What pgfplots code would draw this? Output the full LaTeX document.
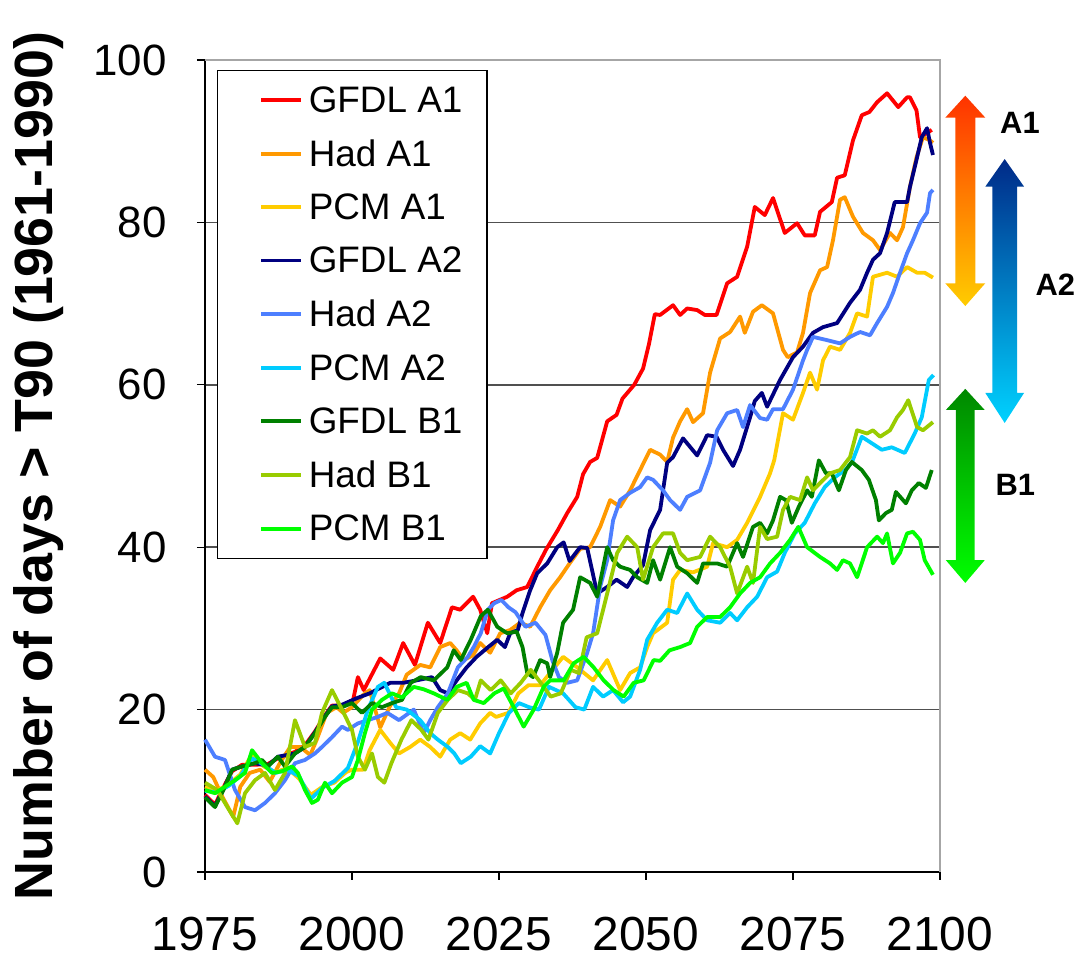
\documentclass[border=0pt]{standalone}
\usepackage{pgfplots}
\pgfplotsset{compat=1.18}
\usepackage{fontspec}
\setmainfont{Liberation Sans}
\definecolor{cGA1}{HTML}{FF0000}
\definecolor{cHA1}{HTML}{FF9900}
\definecolor{cPA1}{HTML}{FFCC00}
\definecolor{cGA2}{HTML}{000080}
\definecolor{cHA2}{HTML}{4D7FFF}
\definecolor{cPA2}{HTML}{00CCFF}
\definecolor{cGB1}{HTML}{008000}
\definecolor{cHB1}{HTML}{99CC00}
\definecolor{cPB1}{HTML}{00FF00}
\definecolor{gridc}{HTML}{505050}
\begin{document}
\begin{tikzpicture}
\begin{axis}[
  name=ax,
  scale only axis,
  width=735bp, height=812bp,
  xmin=1975, xmax=2100, ymin=0, ymax=100,
  clip=false,
  axis x line*=bottom, axis y line*=left,
  axis line style={black, line width=1.5bp},
  xtick={1975,2000,2025,2050,2075,2100},
  xticklabels={1975,2000,2025,2050,2075,2100},
  ytick={0,20,40,60,80,100},
  tick align=outside,
  major tick length=8bp,
  tick style={black, line width=1.2bp},
  ymajorgrids,
  grid style={gridc, line width=1.5bp},
  /pgf/number format/assume math mode=true,
  xticklabel style={font=\fontsize{48}{48}\selectfont, inner ysep=0bp, yshift=-37bp},
  yticklabel style={font=\fontsize{44}{44}\selectfont, xshift=-27bp},
  ylabel={Number of days > T90 (1961-1990)},
  ylabel style={font=\bfseries\fontsize{54}{54}\selectfont, at={(axis description cs:-0.227,0.5)}, anchor=center},
  legend cell align=left,
  legend image code/.code={\path[draw=none,fill=none] (-25bp,0bp) -- (0bp,0bp); \draw[#1] (0bp,0bp) -- (40bp,0bp);},
  legend style={at={(axis description cs:0.016,0.988)}, anchor=north west,
    draw=black, line width=1.2bp, fill=white,
    font=\fontsize{37}{40}\selectfont,
    inner xsep=19bp, inner ysep=14bp, row sep=22bp,
    nodes={inner xsep=5.5bp}},
  every axis plot/.append style={line width=3.8bp, line join=round, mark=none},
]
% GFDL A1
\addplot[cGA1] coordinates {(1975,9.5)(1976.7,8.3)(1978.4,10.8)(1979.6,12.4)(1981.3,13.2)(1983.5,13.2)(1985.7,13.3)(1987.4,14)(1990.3,14.8)(1992,15.6)(1993.7,17.3)(1995.4,19.3)(1996.6,20.5)(1998.3,20.5)(2000.2,21.2)(2001,24)(2002,22.4)(2004.8,26.3)(2007,24.9)(2008.7,28.2)(2010.7,25.5)(2012.9,30.7)(2015,28.2)(2017,32.6)(2018.4,32.3)(2020.6,33.9)(2021.8,32.3)(2023,29.4)(2023.8,33.1)(2026.4,33.9)(2028,34.7)(2029.8,35.1)(2031.5,37.6)(2033,39.7)(2035,42.1)(2036.6,44.2)(2038.3,46.2)(2039.3,49)(2040.5,50.5)(2041.7,51)(2043.4,55.5)(2045,56.3)(2046,58.3)(2048,60)(2049.5,62)(2050.5,65)(2051.5,68.7)(2052.4,68.6)(2054.6,69.8)(2055.8,68.6)(2057,69.4)(2058.7,69.2)(2060,68.6)(2062,68.6)(2063.8,72.5)(2065.5,73.3)(2067.2,77)(2068.5,81.9)(2070.2,80.9)(2071.6,83)(2073.6,78.7)(2075.7,79.9)(2077,78.4)(2078.7,78.4)(2079.6,81.3)(2081.6,82.5)(2082.5,85.5)(2083.8,85.8)(2085.2,90.1)(2086.7,93.2)(2088,93.6)(2089.3,94.8)(2091,95.9)(2092.9,94.2)(2094.4,95.4)(2094.9,95.4)(2096,93.8)(2096.6,90.5)(2097.8,91)(2098.6,91.4)};
\addlegendentry{GFDL A1}
% Had A1
\addplot[cHA1] coordinates {(1975,12.6)(1976.4,11.7)(1978,9.2)(1979.8,6.8)(1981,10.5)(1982.6,12.2)(1984.4,12.6)(1986,11.1)(1987.8,13.5)(1989.5,15.4)(1991.2,15.4)(1992.9,14.4)(1994,16.3)(1995.7,19.6)(1997.4,20.3)(1998.5,19.6)(2000,20.3)(2001.9,21.8)(2003,22.4)(2004.8,17.8)(2006.5,20.5)(2008,22)(2009.3,24.3)(2011.6,25.5)(2013.3,25.2)(2015,27.7)(2016.7,28.2)(2017.8,27.3)(2019,26.1)(2020.6,26.7)(2021.8,28.2)(2023.5,27)(2025.2,29.4)(2026.9,29.8)(2028.6,30.7)(2030.3,30.2)(2032,32.6)(2033.7,34.7)(2035.4,36.3)(2037,38)(2038.8,39.8)(2040.5,40)(2042.2,42.5)(2043.9,45.8)(2045.6,45)(2047.3,47)(2049,49.5)(2050.7,52)(2052.4,51.4)(2053.6,50.5)(2054.6,53.5)(2055.8,55.5)(2057,57)(2058,55.4)(2059.7,56.5)(2060.9,61.5)(2062.6,65.7)(2064.3,66.5)(2066,68.4)(2066.8,66.4)(2068.2,69)(2069.7,69.8)(2071.6,68.8)(2073.3,64.3)(2074.1,63.4)(2075.7,64)(2076.7,66.4)(2077.9,71.3)(2079.6,74.1)(2080.8,74.5)(2081.8,77.8)(2083,82.8)(2083.8,83.1)(2085.2,80.7)(2086.9,78.7)(2088.6,77.8)(2089.8,76.6)(2091.5,78.7)(2092.7,77.8)(2093.7,79.4)(2094.9,84.4)(2096,88)(2097.1,90.5)(2098.3,90.1)(2098.8,89.8)};
\addlegendentry{Had A1}
% PCM A1
\addplot[cPA1] coordinates {(1975,10.5)(1977,10)(1979,10.8)(1981,12)(1983,14.5)(1985,13)(1987,12.3)(1989,12.8)(1991,11.5)(1993,9.5)(1995,10.5)(1997,11)(1999,12.3)(2000,12.6)(2001.9,12.6)(2003,15)(2004.8,17.5)(2006.5,15.9)(2008,14.6)(2009.9,15.4)(2011.6,16.3)(2013.3,15.4)(2015,14.2)(2016.7,16.3)(2018.4,17.1)(2020.1,16.3)(2021.8,18.3)(2023.5,19.6)(2024.5,19.1)(2026.6,19.6)(2028.3,22)(2030,23)(2032,23)(2035.9,26.5)(2038.3,25.2)(2041,23.6)(2043.4,26.1)(2045.6,22.4)(2047.3,24.5)(2049,25.2)(2050.2,27.7)(2051.2,29.4)(2053.6,30.7)(2054.6,36)(2055.8,37.2)(2058,36.9)(2060.4,37.6)(2061.4,40.5)(2063.8,40)(2065.5,40.9)(2067.2,43)(2069.4,46.2)(2071.1,49.1)(2071.8,50.7)(2073.3,56.5)(2075,55.7)(2076.7,59)(2077.9,61.5)(2079.1,59.4)(2080.1,63)(2081.3,64.7)(2083,64.3)(2084.7,66.4)(2085.9,68.8)(2087.6,68.4)(2088.6,73.3)(2091,73.8)(2092.7,73.3)(2094.4,74.5)(2096.1,73.8)(2097.4,73.8)(2098.8,73.2)};
\addlegendentry{PCM A1}
% GFDL A2
\addplot[cGA2] coordinates {(1975,9.3)(1976.7,8.1)(1978.4,10.6)(1979.6,12.6)(1981.3,13)(1983.5,13.4)(1985.7,13.1)(1987.4,14.2)(1990.3,14.6)(1992,15.4)(1993.7,17.2)(1995.4,19.2)(1996.6,20.4)(1998.3,20.6)(2000.8,21.4)(2003,22)(2006.5,23.3)(2008.7,23.3)(2011,23.6)(2013.6,24)(2015,22.4)(2016.3,22)(2017.8,23.6)(2019.5,25.2)(2021.2,26.5)(2023,27.6)(2024.7,28.6)(2026,27.7)(2026.9,29.4)(2028.2,29.8)(2029,31.9)(2030.3,34.7)(2031.5,36.8)(2033.2,38)(2034.9,40)(2036,40.6)(2037,38.3)(2038.8,40)(2040,39.9)(2041.7,34.3)(2043.4,35.1)(2045,36)(2046.8,35.1)(2047.8,36.3)(2049.5,37.8)(2050.7,42.1)(2052.4,44.6)(2053.6,50.4)(2054.6,51.1)(2056.3,53.4)(2058.7,51.3)(2060.4,53.8)(2062,53.6)(2063.1,52)(2064.8,50)(2066,52)(2067.7,56)(2068.5,58)(2069.7,59)(2070.6,57.3)(2072.8,60.6)(2075,63.4)(2076.7,64.7)(2078.4,66.4)(2080.1,67.1)(2082.5,67.6)(2084.7,70.1)(2086.4,71.7)(2087.6,73.8)(2088.6,75.4)(2089.8,76.2)(2091,78.7)(2092.3,82.5)(2094.4,82.5)(2094.9,84.4)(2096,87.7)(2096.9,90.5)(2097.8,91.6)(2098.3,89.8)(2098.8,88.3)};
\addlegendentry{GFDL A2}
% Had A2
\addplot[cHA2] coordinates {(1975,16.3)(1976.7,14.2)(1978.4,13.8)(1980.1,10.1)(1981.8,8)(1983.5,7.6)(1985.2,8.5)(1986.9,9.7)(1988.6,11.3)(1990.3,13.4)(1992,13.8)(1993.7,14.6)(1994.9,15.4)(1996.6,16.6)(1998.3,17.9)(1999.3,17.5)(2001,18.3)(2002.7,18.7)(2004.4,19.1)(2006,19.6)(2008,18.7)(2010.5,20)(2012.2,17.1)(2013.3,18.7)(2014.6,20.3)(2016.3,22)(2018,25.2)(2019.7,26.5)(2020.7,27.7)(2021.9,29.4)(2023.1,32.3)(2024.2,33.1)(2025.4,33.5)(2026.6,32.6)(2027.8,32)(2029.5,30.2)(2031.2,30.7)(2032.9,29.2)(2034.1,26)(2035.2,24)(2036.6,23.3)(2038.3,23.6)(2040,27)(2041,29.4)(2042.2,35.1)(2043.4,38.4)(2044.4,43.3)(2045.6,45.8)(2047.3,46.7)(2049,47.4)(2050.2,48.6)(2051.2,48.3)(2052.9,47)(2054.1,45.8)(2055.8,44.6)(2057,46.2)(2059.2,47)(2060.9,50.4)(2062.1,54.4)(2063.8,56.5)(2065.5,56.9)(2066.5,54.8)(2067.7,57.5)(2069.4,55.9)(2070.6,55.7)(2071.6,57)(2073.3,57)(2075,59.4)(2076.7,63)(2077.4,64.3)(2078.4,65.9)(2080.8,65.5)(2083,65.1)(2084.7,65.9)(2086.4,66.5)(2088.1,66.1)(2089.3,67.6)(2091,69.6)(2092,71.3)(2093.2,73.8)(2094.4,76.2)(2095.4,77.8)(2096.6,79.9)(2097.8,81.2)(2098.3,83.6)(2098.8,84)};
\addlegendentry{Had A2}
% PCM A2
\addplot[cPA2] coordinates {(1975,10)(1977,9.8)(1979,10.6)(1981,11.8)(1983,14)(1985,13.2)(1987,12.2)(1989,12.6)(1991,11.8)(1993,9)(1995,10.4)(1997,11.2)(1999.3,12.8)(2001,16)(2002.7,20)(2004.4,22.8)(2005.5,23.3)(2007.5,20.3)(2009.3,20)(2011.6,18.7)(2013.3,17.1)(2014.6,16.3)(2016.3,15.4)(2017.4,14.6)(2018.5,13.4)(2020.2,14.2)(2021.8,15.5)(2023.5,14.6)(2025,17.1)(2026.7,19.6)(2028.4,20.8)(2030.1,20.3)(2031.8,20)(2033.5,22.8)(2035.9,22)(2038,20.3)(2039.5,20)(2041,22.8)(2042.7,21.6)(2044.4,22.4)(2046.1,20.9)(2047.3,21.6)(2049,24.9)(2050.2,28.6)(2051.9,30.7)(2053.6,32.3)(2055.3,31.9)(2057,34.3)(2058.7,32.3)(2060.4,31)(2062.6,30.7)(2064.3,31.9)(2065.5,31)(2067.2,32.6)(2068.9,33.9)(2070.6,36.3)(2072.3,37)(2073.6,39.3)(2075.3,41.7)(2077,43)(2078.7,45.4)(2080.4,47.4)(2082.1,48.6)(2083.8,49.5)(2085,50.4)(2086.7,53.6)(2088.4,52.8)(2090.1,52)(2091.8,52.3)(2094,51.6)(2095.7,54)(2096.9,56)(2098.1,60.6)(2098.9,61.2)};
\addlegendentry{PCM A2}
% GFDL B1
\addplot[cGB1] coordinates {(1975,9.2)(1976.7,8)(1978.4,10.5)(1979.6,12.6)(1981.3,13)(1983.5,13.4)(1984.7,13.8)(1985.7,13)(1987.4,14.2)(1988.6,13)(1990.3,14.6)(1992,15.4)(1993.7,17.1)(1995.4,19.1)(1996.6,20.3)(1998.3,20.3)(2000,20.8)(2001.7,19.6)(2003.4,20.8)(2005.1,20.3)(2006.8,20.8)(2008.5,21.2)(2010,23.3)(2011.7,24)(2013.9,23.6)(2016.2,25.2)(2017.3,27.3)(2018.5,26.1)(2020.2,28.6)(2021.9,31.5)(2023.1,32.3)(2024.7,30.2)(2026.4,29.4)(2028,29.6)(2029,27.7)(2029.8,24.5)(2030.8,24)(2032,26.1)(2033.2,25.7)(2033.7,24)(2034.9,27)(2035.9,30.7)(2037.6,32.3)(2038.8,36.3)(2040.5,35.6)(2041.7,33.9)(2043.4,40)(2044.4,38.4)(2045.6,37.6)(2047.3,37.2)(2048.5,36.3)(2050.2,35.6)(2051.2,38.4)(2052.4,36)(2054.1,40)(2055.3,37.6)(2057,36.8)(2058.7,35.6)(2059.7,38)(2062.1,38)(2063.8,37.6)(2065.5,40.5)(2066.5,38.8)(2068.2,42.5)(2069.4,43)(2070.6,41.7)(2071.6,43.3)(2072.8,46.2)(2073.8,45.8)(2074.8,43)(2076,45)(2077.4,47)(2078.2,46.2)(2079.4,50.7)(2080.6,49.1)(2081.6,49.1)(2082.8,47)(2084,49.5)(2085,50.5)(2086.7,49.5)(2087.9,48.3)(2089.1,45.8)(2089.6,43.3)(2090.8,44.2)(2091.8,44.6)(2092.5,46.8)(2094.2,45.4)(2095.2,47)(2096.4,47.9)(2097.6,47.3)(2098.6,49.5)};
\addlegendentry{GFDL B1}
% Had B1
\addplot[cHB1] coordinates {(1975,11)(1977.1,10.1)(1978.8,8)(1980.5,6)(1981.8,9.7)(1983.5,11.3)(1985.2,12.2)(1986.9,10.1)(1988.6,12.2)(1990.3,18.7)(1992,15.4)(1993.7,15.9)(1994.9,19.6)(1996.6,22.4)(1998.3,20)(2000,17.5)(2001,14.2)(2002.2,12.6)(2003.4,14.6)(2004.4,11.7)(2005.5,11)(2006.7,13.4)(2008.4,16.3)(2010.1,18.7)(2011.8,17.5)(2013,16.3)(2014.6,19.6)(2016.3,21.2)(2018,22.4)(2019.7,22)(2020.9,21.2)(2021.9,23.6)(2023.6,22.4)(2025.3,23.6)(2027,22)(2028.7,23.3)(2030.4,24.9)(2032.1,23.3)(2033.8,21.6)(2035.5,22)(2037.2,24.9)(2038.6,24.5)(2039.9,28.9)(2041.7,29.4)(2043.4,34.3)(2045.1,39.3)(2046.8,41.3)(2048.5,40)(2049.5,36)(2051.2,40)(2052.9,41.7)(2054.6,41.7)(2055.8,39.3)(2057,38.4)(2059.2,38.8)(2060.9,41.3)(2062.6,40)(2064.3,37.6)(2065.5,34.3)(2067.2,37.6)(2068.2,35.6)(2069.4,42.5)(2070.6,41)(2072.3,41.3)(2073.3,44.6)(2074.5,46.2)(2076.2,45.8)(2077.4,48.6)(2078.4,47)(2079.6,47.9)(2081.3,49.1)(2083,49.5)(2084.7,51.1)(2085.9,54.4)(2087.6,54)(2088.6,54.4)(2089.8,53.6)(2091.5,54.4)(2092.7,56)(2093.7,56.9)(2094.6,58.1)(2096.1,54.8)(2097.1,54.4)(2098.8,55.4)};
\addlegendentry{Had B1}
% PCM B1
\addplot[cPB1] coordinates {(1975,10.1)(1976.7,9.7)(1978.4,10.5)(1980.1,11.3)(1981.8,12.2)(1983,15)(1984.7,13.4)(1986.4,12.2)(1988.1,12.4)(1989.8,13)(1990.8,12.2)(1992,10.1)(1993.2,8.5)(1994.2,8.9)(1995.4,11)(1996.6,9.7)(1998.3,11)(2000,11.7)(2001,13.8)(2002.2,17.1)(2003.4,20)(2005.1,21.2)(2006.8,22)(2008.5,21.5)(2010.5,22.8)(2012.2,22.5)(2013.9,22)(2016.2,21.2)(2017.8,22.8)(2019.5,23.3)(2020.7,21.2)(2022.4,20.8)(2024.2,22)(2025.8,22.6)(2027.5,20.3)(2029.2,17.9)(2030.9,20)(2032.6,22.8)(2033.7,23.6)(2036,23.6)(2037.7,25.7)(2039.4,26.5)(2041.1,25.2)(2042.8,23.6)(2044.5,22.4)(2046.2,21.6)(2047.9,23.3)(2049.6,23.6)(2051.3,26.1)(2052.4,26)(2054,27.3)(2055.8,27.7)(2057.5,28.2)(2058.7,30.2)(2060.4,31.4)(2062.6,31.4)(2064.3,32.6)(2066,34.3)(2067.7,35.6)(2069.4,36.3)(2071.1,38)(2072.8,39.3)(2074.5,40.9)(2075.9,42.5)(2077.4,40)(2079.6,38.8)(2081.3,38)(2082.5,37.2)(2083.5,38.4)(2084.7,38)(2085.9,36.3)(2087.6,40)(2089.3,41.3)(2090.3,40.5)(2091,41.7)(2092,38)(2093.2,39.3)(2094.4,41.7)(2095.4,41.9)(2096.6,40.9)(2097.4,38.4)(2098.8,36.6)};
\addlegendentry{PCM B1}
% plot area border (top and right)
\draw[black!35, line width=1.2bp] (axis cs:1975,100) -- (axis cs:2100,100) -- (axis cs:2100,0);
% scenario arrows
\shade[top color={rgb,255:red,255;green,51;blue,0}, middle color={rgb,255:red,255;green,153;blue,0}, bottom color={rgb,255:red,255;green,204;blue,0}]
  (axis cs:2104.3,95.6) -- (axis cs:2107.7,92.9) -- (axis cs:2106.0,92.9) -- (axis cs:2106.0,72.5) -- (axis cs:2107.7,72.5) -- (axis cs:2104.3,69.7) -- (axis cs:2100.9,72.5) -- (axis cs:2102.6,72.5) -- (axis cs:2102.6,92.9) -- (axis cs:2100.9,92.9) -- cycle;
\shade[top color={rgb,255:red,0;green,42;blue,136}, middle color={rgb,255:red,0;green,150;blue,204}, bottom color={rgb,255:red,0;green,210;blue,255}]
  (axis cs:2111.0,87.8) -- (axis cs:2114.3,84.4) -- (axis cs:2113.1,84.4) -- (axis cs:2113.1,59.0) -- (axis cs:2114.3,59.0) -- (axis cs:2111.0,55.3) -- (axis cs:2107.7,59.0) -- (axis cs:2108.9,59.0) -- (axis cs:2108.9,84.4) -- (axis cs:2107.7,84.4) -- cycle;
\shade[top color={rgb,255:red,0;green,136;blue,0}, middle color={rgb,255:red,0;green,192;blue,0}, bottom color={rgb,255:red,0;green,255;blue,0}]
  (axis cs:2104.3,59.5) -- (axis cs:2107.6,56.9) -- (axis cs:2105.9,56.9) -- (axis cs:2105.9,38.4) -- (axis cs:2107.6,38.4) -- (axis cs:2104.3,35.6) -- (axis cs:2101.0,38.4) -- (axis cs:2102.7,38.4) -- (axis cs:2102.7,56.9) -- (axis cs:2101.0,56.9) -- cycle;
\node[font=\bfseries\fontsize{31}{31}\selectfont] at (axis cs:2113.6,92.2) {A1};
\node[font=\bfseries\fontsize{31}{31}\selectfont] at (axis cs:2119.6,72.3) {A2};
\node[font=\bfseries\fontsize{31}{31}\selectfont] at (axis cs:2112.8,47.7) {B1};
\end{axis}
\pgfresetboundingbox
\path[use as bounding box] ([shift={(-205bp,-91bp)}]ax.south west) rectangle ([shift={(879bp,872bp)}]ax.south west);
\end{tikzpicture}
\end{document}
